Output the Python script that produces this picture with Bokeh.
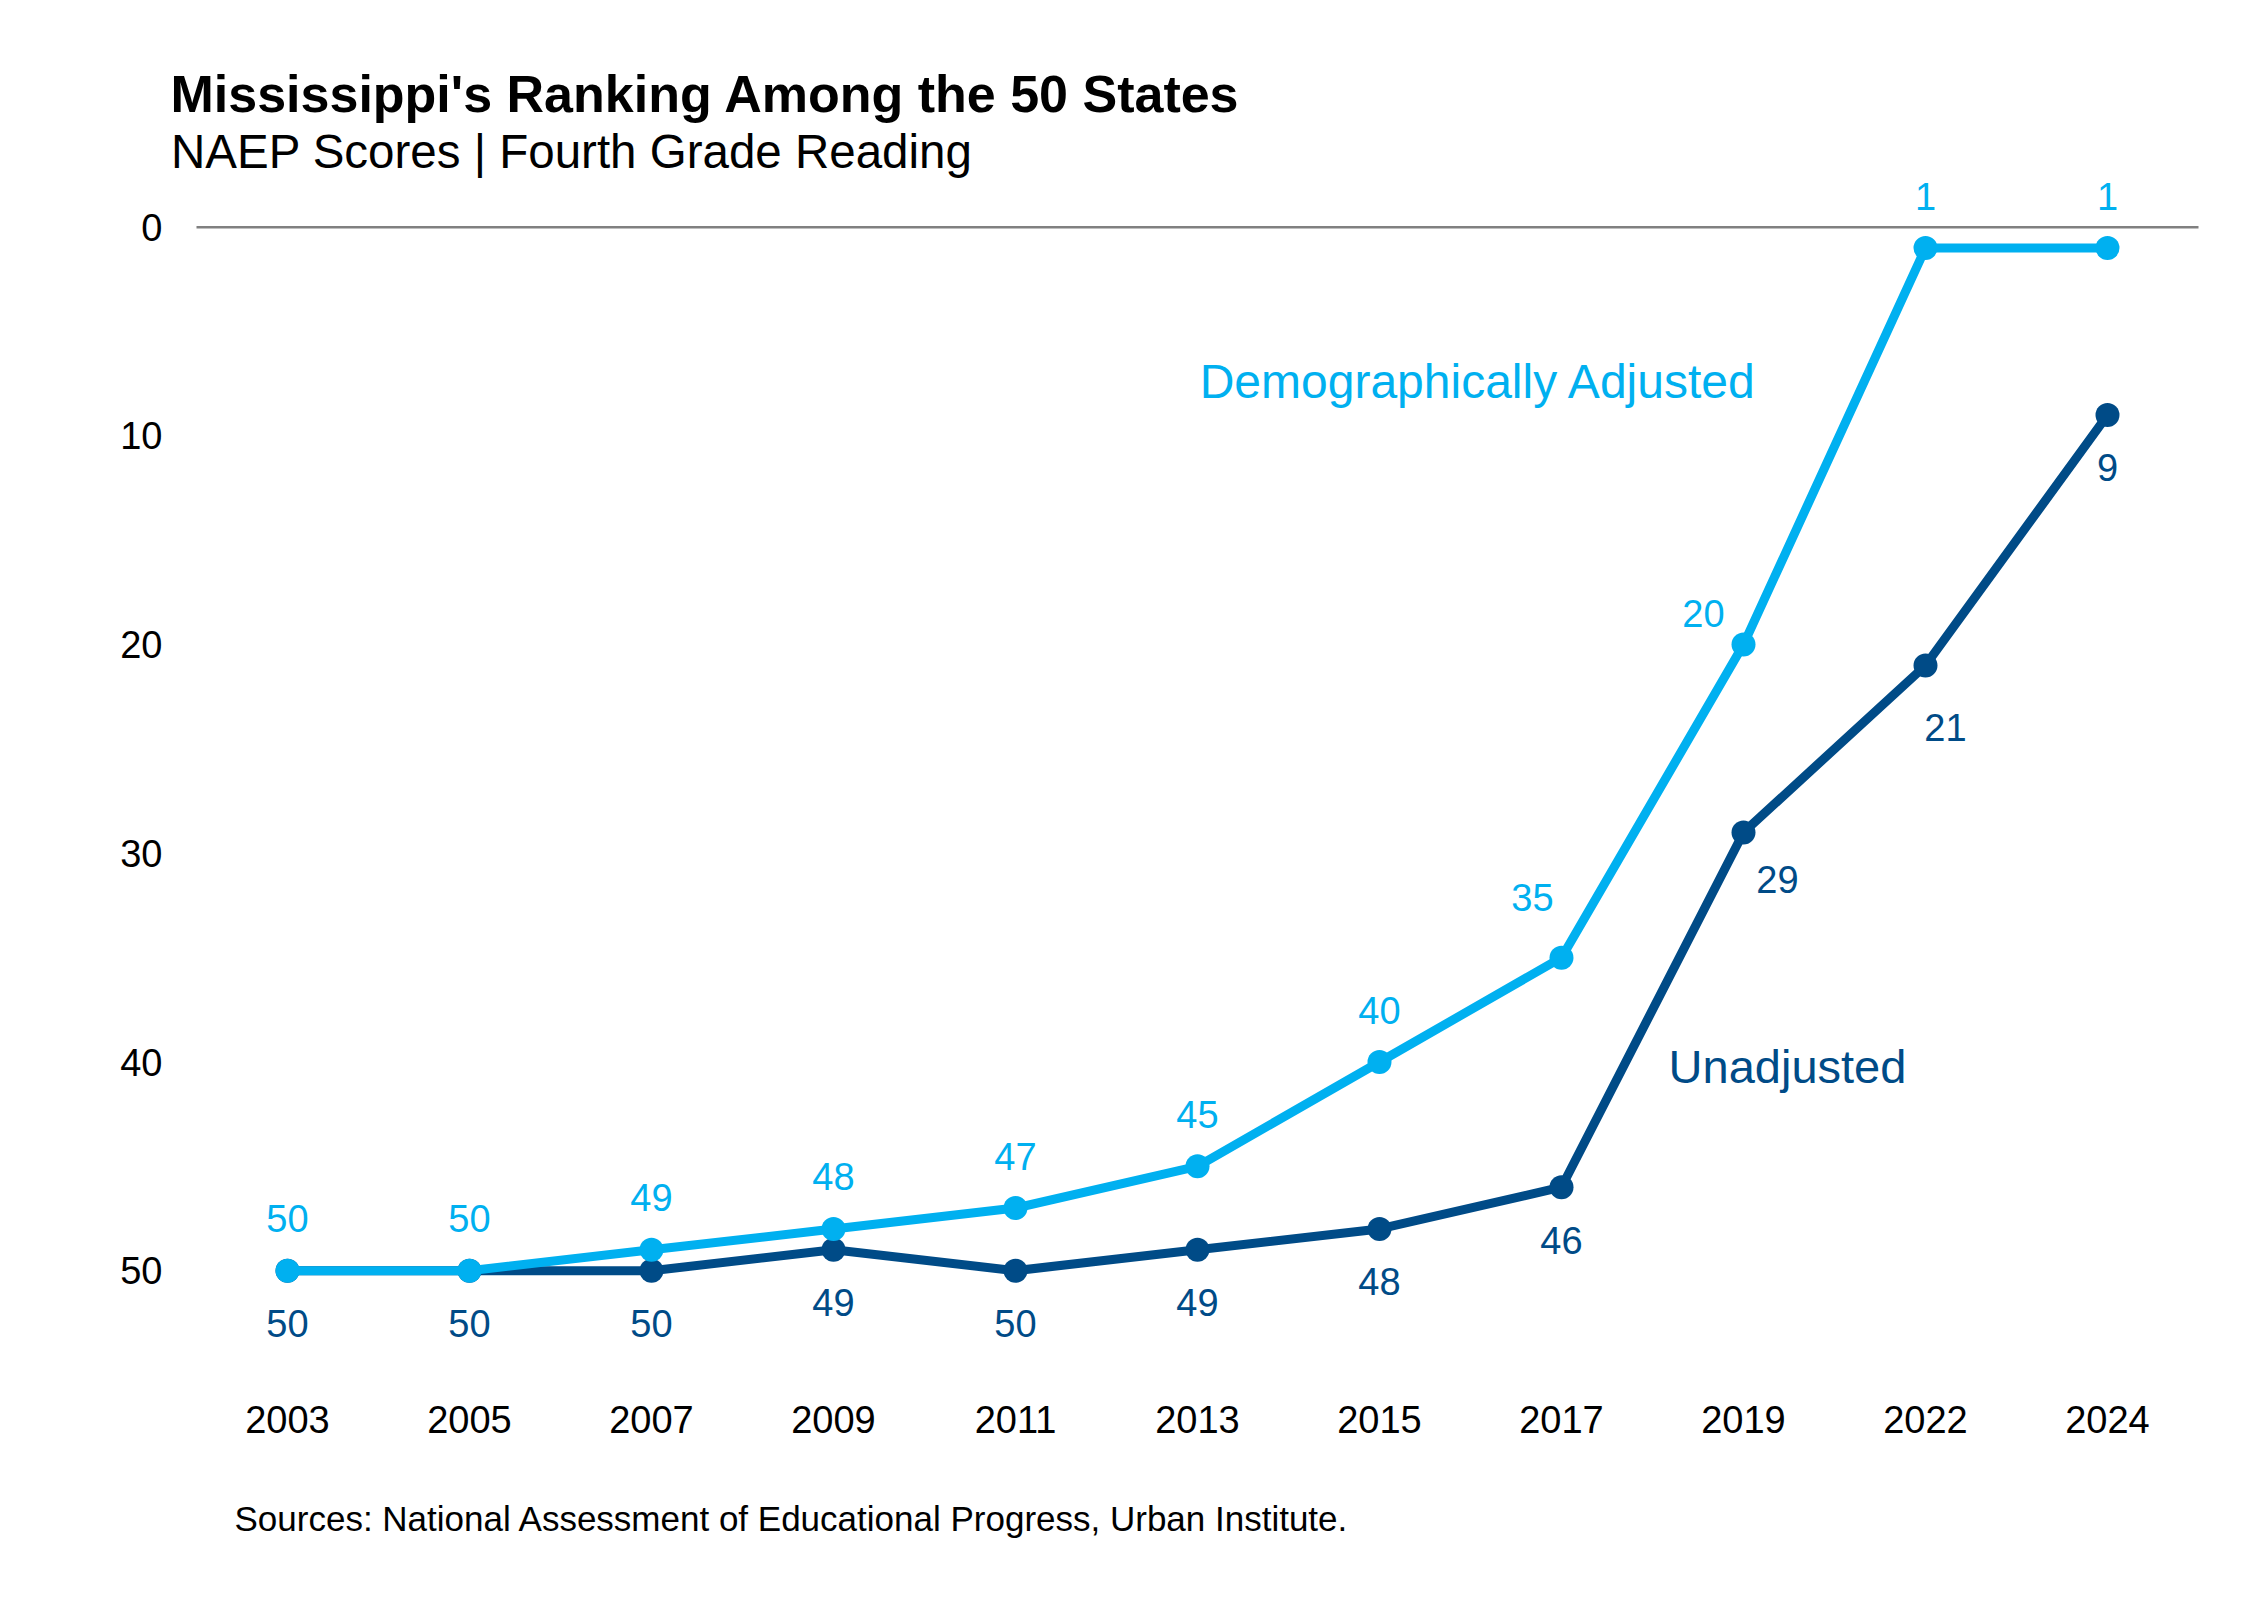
from bokeh.plotting import figure
from bokeh.models import ColumnDataSource, FactorRange, Range1d, FixedTicker, Label
from bokeh.embed import file_html
from bokeh.resources import INLINE

# ---- data ----
years = ["2003", "2005", "2007", "2009", "2011", "2013", "2015", "2017", "2019", "2022", "2024"]
adjusted = [50, 50, 49, 48, 47, 45, 40, 35, 20, 1, 1]
unadjusted = [50, 50, 50, 49, 50, 49, 48, 46, 29, 21, 9]
y_ticks = [0, 10, 20, 30, 40, 50]

title = "Mississippi's Ranking Among the 50 States"
subtitle = "NAEP Scores | Fourth Grade Reading"
source_note = "Sources: National Assessment of Educational Progress, Urban Institute."
adj_name = "Demographically Adjusted"
unadj_name = "Unadjusted"

# ---- styling ----
LIGHT = "#00B0F0"
DARK = "#004B87"
FONT = "Liberation Sans"
NUM_SIZE = "38px"

# data-label offsets in pixels (x right, y down)
adj_dx = [0, 0, 0, 0, 0, 0, 0, -29, -40, 0, 0]
adj_dy = [-52, -52, -52, -52, -52, -52, -52, -60, -31, -52, -52]
un_dx = [0, 0, 0, 0, 0, 0, 0, 0, 34, 20, 0]
un_dy = [53, 53, 53, 53, 53, 53, 53, 53, 47, 62, 52]

# ---- layout (pixels) ----
W, H = 2228, 1584
FRAME_L, FRAME_R, FRAME_T, FRAME_B = 170, 2224, 30, 1560
BAND = 182.0                      # width of one year band
PX_PER_UNIT = 20.87               # pixels per ranking unit
ZERO_Y = 226.7                    # pixel row of rank 0
XAXIS_Y = 1385                    # pixel row where the year labels hang

pad = ((FRAME_R - FRAME_L) / BAND - len(years)) / 2
y_top = (FRAME_T - ZERO_Y) / PX_PER_UNIT
y_bot = (FRAME_B - ZERO_Y) / PX_PER_UNIT

p = figure(width=W, height=H, output_backend="svg", toolbar_location=None,
           x_range=FactorRange(*years, range_padding=pad, range_padding_units="absolute"),
           y_range=Range1d(start=y_bot, end=y_top),
           min_border_left=FRAME_L, min_border_right=W - FRAME_R,
           min_border_top=FRAME_T, min_border_bottom=H - FRAME_B)
p.outline_line_color = None
p.background_fill_color = "white"
p.border_fill_color = "white"
p.xgrid.grid_line_color = None
p.ygrid.grid_line_color = None

for ax in (p.xaxis[0], p.yaxis[0]):
    ax.axis_line_color = None
    ax.major_tick_line_color = None
    ax.minor_tick_line_color = None
    ax.major_tick_out = 0
    ax.major_tick_in = 0
    ax.minor_tick_out = 0
    ax.minor_tick_in = 0
    ax.major_label_text_font = FONT
    ax.major_label_text_font_size = NUM_SIZE
    ax.major_label_text_color = "black"
p.yaxis[0].ticker = FixedTicker(ticks=y_ticks)
p.yaxis[0].major_label_standoff = 8
p.xaxis[0].fixed_location = (XAXIS_Y - ZERO_Y) / PX_PER_UNIT
p.xaxis[0].major_label_standoff = 20

# zero reference line across the year bands
p.segment(x0=[(years[0], -0.5)], y0=[0], x1=[(years[-1], 0.5)], y1=[0],
          line_color="#808080", line_width=2.5)

src = ColumnDataSource(dict(
    year=years, adj=adjusted, un=unadjusted,
    adj_txt=[str(v) for v in adjusted], un_txt=[str(v) for v in unadjusted],
    adj_dx=adj_dx, adj_dy=adj_dy, un_dx=un_dx, un_dy=un_dy,
))

LW, MS = 9, 24
p.line("year", "un", source=src, line_color=DARK, line_width=LW, line_join="round")
p.scatter("year", "un", source=src, size=MS, fill_color=DARK, line_color=None)
p.line("year", "adj", source=src, line_color=LIGHT, line_width=LW, line_join="round")
p.scatter("year", "adj", source=src, size=MS, fill_color=LIGHT, line_color=None)

p.text("year", "adj", text="adj_txt", source=src, x_offset="adj_dx", y_offset="adj_dy",
       text_align="center", text_baseline="middle", text_color=LIGHT,
       text_font={"value": FONT}, text_font_size={"value": NUM_SIZE})
p.text("year", "un", text="un_txt", source=src, x_offset="un_dx", y_offset="un_dy",
       text_align="center", text_baseline="middle", text_color=DARK,
       text_font={"value": FONT}, text_font_size={"value": NUM_SIZE})


def add_label(text, px, py_center, size, color, bold=False, align="left"):
    p.add_layout(Label(x=px - FRAME_L, y=FRAME_B - py_center,
                       x_units="screen", y_units="screen", text=text,
                       text_font=FONT, text_font_size=size, text_color=color,
                       text_font_style="bold" if bold else "normal",
                       text_align=align, text_baseline="middle"))


add_label(title, 170, 93, "52px", "black", bold=True)
add_label(subtitle, 170.5, 150.5, "47.5px", "black")
add_label(source_note, 234, 1518, "35px", "black")
add_label(adj_name, 1478, 381, "48px", LIGHT, align="center")
add_label(unadj_name, 1787, 1066, "47px", DARK, align="center")

open("out.html", "w").write(file_html(p, INLINE))
